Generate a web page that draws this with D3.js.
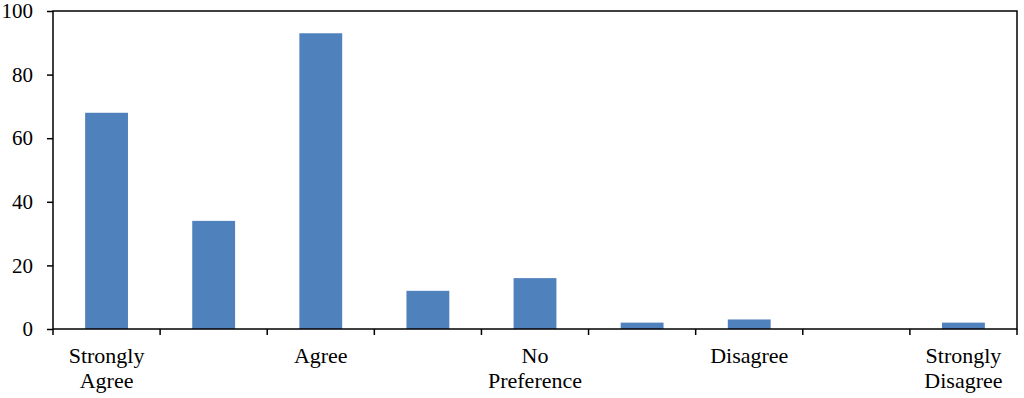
<!DOCTYPE html>
<html><head><meta charset="utf-8">
<script src="https://cdn.jsdelivr.net/npm/d3@7"></script>
<style>body{margin:0;background:#fff}svg{display:block}
svg text{font-family:"Liberation Serif","Times New Roman","DejaVu Serif",serif;}</style>
</head><body>
<svg id="c" width="1024" height="398"></svg>
<script>
const categories = ["c1","c2","c3","c4","c5","c6","c7","c8","c9"];
const values = [68, 34, 93, 12, 16, 2, 3, 0, 2];
const categoryLabels = [["Strongly","Agree"], [], ["Agree"], [], ["No","Preference"], [], ["Disagree"], [], ["Strongly","Disagree"]];
const yTicks = [0, 20, 40, 60, 80, 100];

const svg = d3.select("#c");
const m = {left: 53, right: 1017, top: 11, bottom: 329};
const x = d3.scaleBand().domain(categories).range([m.left, m.right]).paddingInner(0).paddingOuter(0);
const y = d3.scaleLinear().domain([0, 100]).range([m.bottom, m.top]);

// bars
const bw = x.bandwidth() * 0.4;
svg.append("g").selectAll("rect").data(values).join("rect")
  .attr("x", (d, i) => x(categories[i]) + (x.bandwidth() - bw) / 2)
  .attr("width", bw)
  .attr("y", d => y(d))
  .attr("height", d => y(0) - y(d))
  .attr("fill", "#4F81BD");

// frame
svg.append("rect").attr("x", m.left).attr("y", m.top)
  .attr("width", m.right - m.left).attr("height", m.bottom - m.top)
  .attr("fill", "none").attr("stroke", "#000").attr("stroke-width", 1.5);

// y axis
const ya = svg.append("g").attr("transform", `translate(${m.left},0)`)
  .call(d3.axisLeft(y).tickValues(yTicks).tickSize(6).tickPadding(14));
ya.select(".domain").remove();
ya.attr("font-family", null).attr("font-size", null);
ya.selectAll("line").attr("stroke", "#000").attr("stroke-width", 1.5);
ya.selectAll("text").style("font-size", "21px").attr("fill", "#000");

// x axis ticks at band boundaries
const bounds = categories.map(c => x(c)).concat([m.right]);
svg.append("g").selectAll("line").data(bounds).join("line")
  .attr("x1", d => d).attr("x2", d => d)
  .attr("y1", m.bottom).attr("y2", m.bottom + 6)
  .attr("stroke", "#000").attr("stroke-width", 1.5);

// x labels
const lg = svg.append("g");
categoryLabels.forEach((lines, i) => {
  const t = lg.append("text")
    .attr("x", x(categories[i]) + x.bandwidth() / 2)
    .attr("y", 363)
    .attr("text-anchor", "middle")
    .style("font-size", "22px").attr("fill", "#000");
  lines.forEach((s, j) => {
    t.append("tspan").attr("x", x(categories[i]) + x.bandwidth() / 2)
      .attr("dy", j === 0 ? 0 : 25).text(s);
  });
});
</script>
</body></html>
